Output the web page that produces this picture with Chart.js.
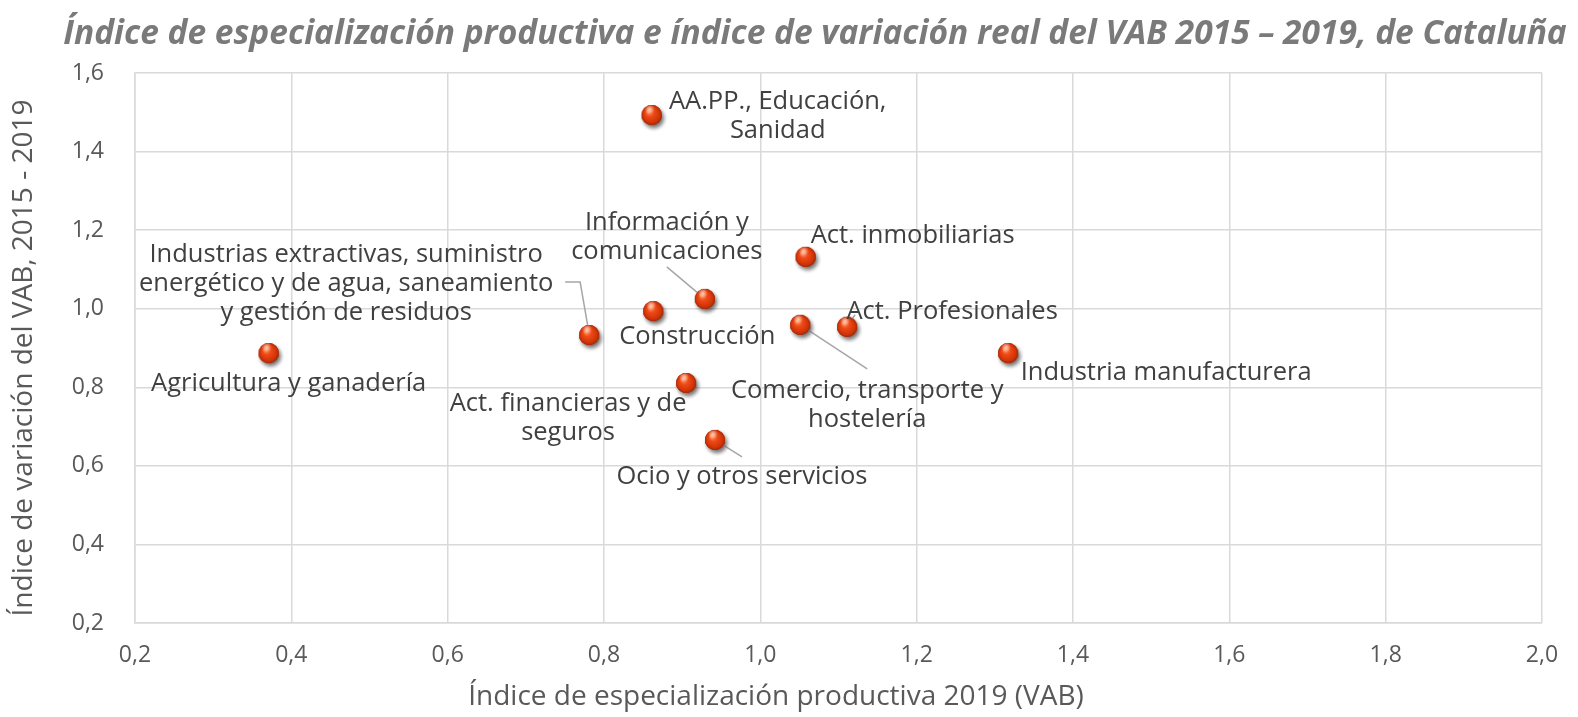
<!DOCTYPE html>
<html>
<head>
<meta charset="utf-8">
<script src="https://cdn.jsdelivr.net/npm/chart.js@4.4.0/dist/chart.umd.min.js"></script>
<style>
  html, body { margin: 0; padding: 0; background: #ffffff; }
  #wrap { width: 1578px; height: 717px; position: relative; }
</style>
</head>
<body>
<div id="wrap"><canvas id="c" width="1578" height="717"></canvas></div>
<script>
// ---------------- DATA ----------------
const chartTitle = "Índice de especialización productiva e índice de variación real del VAB 2015 – 2019, de Cataluña";
const xAxisTitle = "Índice de especialización productiva 2019 (VAB)";
const yAxisTitle = "Índice de variación del VAB, 2015 - 2019";

const categories = [
  "Agricultura y ganadería",
  "Industrias extractivas, suministro\nenergético y de agua, saneamiento\ny gestión de residuos",
  "Construcción",
  "AA.PP., Educación,\nSanidad",
  "Información y\ncomunicaciones",
  "Act. financieras y de\nseguros",
  "Ocio y otros servicios",
  "Comercio, transporte y\nhostelería",
  "Act. inmobiliarias",
  "Act. Profesionales",
  "Industria manufacturera"
];
const especializacion = [0.371, 0.781, 0.863, 0.861, 0.929, 0.905, 0.942, 1.051, 1.058, 1.111, 1.317];
const variacion       = [0.887, 0.933, 0.994, 1.493, 1.025, 0.811, 0.666, 0.959, 1.132, 0.954, 0.887];

const xTickLabels = ["0,2","0,4","0,6","0,8","1,0","1,2","1,4","1,6","1,8","2,0"];
const yTickLabels = ["0,2","0,4","0,6","0,8","1,0","1,2","1,4","1,6"];

// ---------------- LAYOUT (label placement relative to each point, px) ----------------
const labelLayout = [
  { dx: 20,   dy: 31,  leader: null },
  { dx: -243, dy: -51, leader: [[-24,-53],[-9,-53],[-1,-7]] },
  { dx: 44,   dy: 26,  leader: null },
  { dx: 126,  dy: 1,   leader: null },
  { dx: -38,  dy: -62, leader: [[-38,-32],[0,0]] },
  { dx: -118, dy: 35,  leader: null },
  { dx: 27,   dy: 37,  leader: [[0,0],[27,17]] },
  { dx: 67,   dy: 80,  leader: [[0,0],[67,44]] },
  { dx: 107,  dy: -21, leader: null },
  { dx: 105,  dy: -15, leader: [[3,-5],[8,-12]] },
  { dx: 158,  dy: 20,  leader: null }
];

const FONT = "'Open Sans', 'DejaVu Sans', sans-serif";

// ---------------- sphere marker ----------------
function makeSphere() {
  const S = 36, c = document.createElement('canvas');
  c.width = S; c.height = S;
  const g = c.getContext('2d');
  const cx = S/2, cy = S/2, r = 10;
  g.save();
  g.shadowColor = 'rgba(0,0,0,0.35)';
  g.shadowBlur = 4;
  g.shadowOffsetX = 2;
  g.shadowOffsetY = 3;
  g.beginPath(); g.arc(cx, cy, r, 0, Math.PI*2);
  g.fillStyle = '#c83010';
  g.fill();
  g.restore();
  const grad = g.createRadialGradient(cx - 3, cy - 4, 1, cx, cy, r);
  grad.addColorStop(0, '#ff9a6a');
  grad.addColorStop(0.35, '#f04a18');
  grad.addColorStop(0.8, '#d23508');
  grad.addColorStop(1, '#a82a06');
  g.beginPath(); g.arc(cx, cy, r, 0, Math.PI*2);
  g.fillStyle = grad; g.fill();
  const hg = g.createRadialGradient(cx - 2, cy - 6, 0, cx - 2, cy - 6, 5);
  hg.addColorStop(0, 'rgba(255,220,200,0.85)');
  hg.addColorStop(1, 'rgba(255,220,200,0)');
  g.beginPath(); g.arc(cx, cy, r, 0, Math.PI*2);
  g.fillStyle = hg; g.fill();
  return c;
}
const sphere = makeSphere();

const points = especializacion.map((x, i) => ({ x: x, y: variacion[i] }));

// ---------------- plugins ----------------
const textPlugin = {
  id: 'textPlugin',
  afterDatasetsDraw(chart) {
    const ctx = chart.ctx;
    const meta = chart.getDatasetMeta(0);
    ctx.save();
    ctx.strokeStyle = '#a6a6a6';
    ctx.lineWidth = 1.5;
    meta.data.forEach((el, i) => {
      const L = labelLayout[i].leader;
      if (!L) return;
      ctx.beginPath();
      L.forEach((p, k) => {
        if (k === 0) ctx.moveTo(el.x + p[0], el.y + p[1]);
        else ctx.lineTo(el.x + p[0], el.y + p[1]);
      });
      ctx.stroke();
    });
    meta.data.forEach((el) => {
      ctx.drawImage(sphere, el.x - sphere.width/2, el.y - sphere.height/2);
    });
    ctx.fillStyle = '#404040';
    ctx.font = "25.5px " + FONT;
    ctx.textAlign = 'center';
    ctx.textBaseline = 'middle';
    const lh = 29;
    meta.data.forEach((el, i) => {
      const lines = categories[i].split('\n');
      const cx = el.x + labelLayout[i].dx;
      const cy = el.y + labelLayout[i].dy;
      const y0 = cy - (lines.length - 1) * lh / 2;
      lines.forEach((t, k) => ctx.fillText(t, cx, y0 + k * lh));
    });
    ctx.restore();
  },
  afterDraw(chart) {
    const ctx = chart.ctx;
    ctx.save();
    ctx.font = "italic bold 100px " + FONT;
    const w100 = ctx.measureText(chartTitle).width;
    const size = Math.min(40, 100 * 1505 / w100);
    ctx.font = "italic bold " + size.toFixed(1) + "px " + FONT;
    ctx.fillStyle = '#7a7a7a';
    ctx.textAlign = 'center';
    ctx.textBaseline = 'middle';
    ctx.fillText(chartTitle, 815, 34);
    ctx.fillStyle = '#595959';
    ctx.font = "28px " + FONT;
    ctx.fillText(xAxisTitle, 776, 697);
    ctx.translate(24, 358);
    ctx.rotate(-Math.PI/2);
    ctx.fillText(yAxisTitle, 0, 0);
    ctx.restore();
  }
};

new Chart(document.getElementById('c'), {
  type: 'scatter',
  data: {
    datasets: [{
      label: 'Sectores',
      data: points,
      pointStyle: sphere,
      pointRadius: 10,
      pointHoverRadius: 10,
      showLine: false
    }]
  },
  options: {
    responsive: false,
    animation: false,
    devicePixelRatio: 1,
    layout: { padding: { top: 73, right: 36, left: 0, bottom: 0 } },
    plugins: {
      legend: { display: false },
      title: { display: false },
      tooltip: { enabled: false }
    },
    scales: {
      x: {
        type: 'linear',
        min: 0.2, max: 2.0,
        afterFit: (s) => { s.height = 94; },
        grid: { color: '#d9d9d9', lineWidth: 1.5, drawTicks: false },
        border: { color: '#d9d9d9', width: 1.5 },
        ticks: {
          stepSize: 0.2,
          padding: 19,
          color: '#595959',
          font: { family: FONT, size: 23 },
          callback: (v, i) => xTickLabels[i]
        }
      },
      y: {
        type: 'linear',
        min: 0.2, max: 1.6,
        afterFit: (s) => { s.width = 135; },
        grid: { color: '#d9d9d9', lineWidth: 1.5, drawTicks: false },
        border: { color: '#d9d9d9', width: 1.5 },
        ticks: {
          stepSize: 0.2,
          padding: 31,
          color: '#595959',
          font: { family: FONT, size: 23 },
          callback: (v, i) => yTickLabels[i]
        }
      }
    }
  },
  plugins: [textPlugin]
});
</script>
</body>
</html>
